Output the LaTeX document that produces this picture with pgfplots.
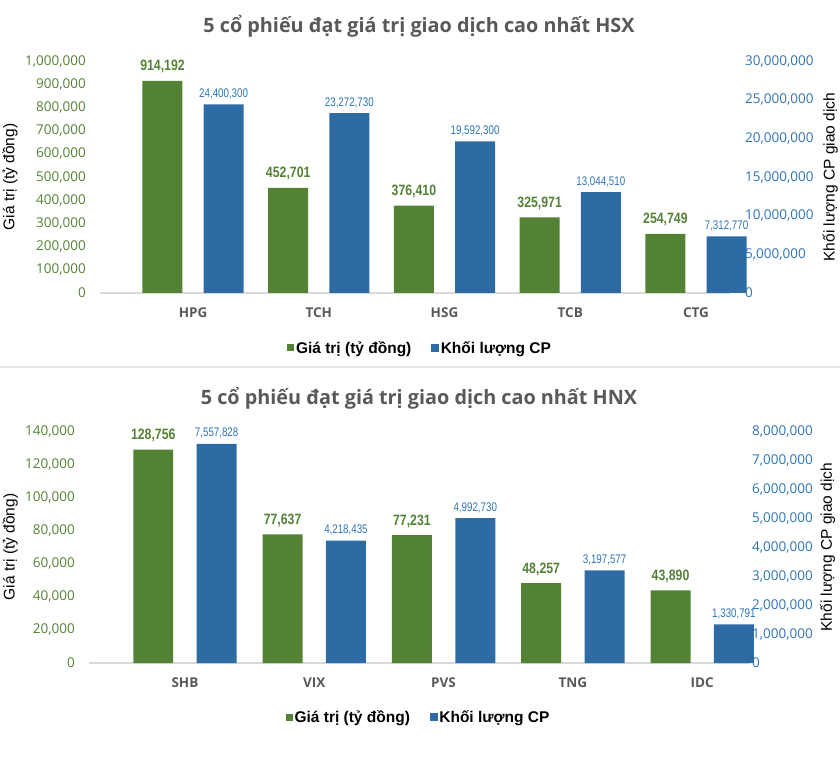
\documentclass[border=0pt]{standalone}
\usepackage{pgfplots}
\pgfplotsset{compat=1.18}
\usepackage{fontspec}
\setmainfont{Liberation Sans}
\newfontfamily\osans{Open Sans}
\newfontfamily\narrowf[FakeStretch=0.82]{Liberation Sans}
\newfontfamily\narrowl[FakeStretch=0.78]{Liberation Sans}
\definecolor{gbar}{HTML}{548235}
\definecolor{bbar}{HTML}{2E6BA4}
\definecolor{gtxt}{HTML}{548235}
\definecolor{btxt}{HTML}{2E75B6}
\definecolor{tgray}{HTML}{595959}
\definecolor{lgray}{HTML}{D9D9D9}
\definecolor{sepgray}{HTML}{E6E6E6}

\pgfplotsset{
  common/.style={scale only axis, clip=false, ymin=0, scaled y ticks=false,
    tick style={draw=none}, axis line style={draw=none},
    /pgf/number format/assume math mode=true,
    yticklabel style={/pgf/number format/fixed,/pgf/number format/1000 sep={,}, inner sep=0pt},
  },
  leftax/.style={common, axis x line*=bottom, axis y line*=left,
    xtick={0,1,2,3,4},
    xticklabel style={font=\osans\bfseries\fontsize{13.5}{16}\selectfont, text=tgray, inner sep=0pt, anchor=north, yshift=-15pt},
    yticklabel style={font=\osans\fontsize{13.5}{16}\selectfont, text=gtxt, anchor=east, xshift=-14pt},
    ylabel style={font=\fontsize{15.5}{18}\selectfont, anchor=center},
    legend style={draw=none, fill=none, legend columns=2, font=\bfseries\fontsize{15.5}{18}\selectfont,
      /tikz/every even column/.append style={column sep=18pt}, anchor=center},
    legend image code/.code={\fill[##1] (0pt,-3.5pt) rectangle (7pt,3.5pt);},
  },
  rightax/.style={common, axis x line=none, axis y line*=right,
    yticklabel style={font=\osans\fontsize{13.5}{16}\selectfont, text=btxt, anchor=west, xshift=0pt},
    ylabel style={font=\fontsize{15.5}{18}\selectfont, anchor=center},
  },
  gb/.style={ybar, bar width=#1, bar shift=0pt, fill=gbar, draw=none, nodes near coords,
    point meta=explicit symbolic,
    every node near coord/.append style={font=\narrowf\bfseries\fontsize{15}{18}\selectfont, text=gtxt, anchor=base, inner sep=0pt, yshift=10pt}},
  bb/.style={ybar, bar width=#1, bar shift=0pt, fill=bbar, draw=none, nodes near coords,
    point meta=explicit symbolic,
    every node near coord/.append style={font=\narrowl\fontsize{12.5}{15}\selectfont, text=btxt, anchor=base, inner sep=0pt, yshift=7pt}},
}

\begin{document}
\begin{tikzpicture}[x=1pt,y=1pt]
\path[use as bounding box] (0,0) rectangle (840,764);
\draw[sepgray, line width=2pt] (0,397) -- (840,397);
\node[font=\osans\bfseries\fontsize{19.8}{23}\selectfont, text=tgray, anchor=base] at (419,731) {5 cổ phiếu đạt giá trị giao dịch cao nhất HSX};
\node[font=\osans\bfseries\fontsize{19.8}{23}\selectfont, text=tgray, anchor=base] at (419,360) {5 cổ phiếu đạt giá trị giao dịch cao nhất HNX};

% ---------------- HSX ----------------
\begin{axis}[leftax, at={(100pt,471pt)}, anchor=south west, width=645pt, height=232pt,
  xmin=-0.74, xmax=4.39, ymax=1000000, ytick distance=100000,
  xticklabels={HPG,TCH,HSG,TCB,CTG},
  ylabel={Giá trị (tỷ đồng)}, ylabel style={at={(axis description cs:-0.1395,0.5)}},
  legend style={at={(axis description cs:0.496,-0.237)}}]
\draw[lgray, line width=1.5pt] (axis cs:-0.74,0) -- (axis cs:4.27,0);
\addplot[gb=0.318] coordinates {(-0.243,914192) [914,192] (0.757,452701) [452,701] (1.757,376410) [376,410] (2.757,325971) [325,971] (3.757,254749) [254,749]};
\addlegendentry{Giá trị (tỷ đồng)}
\addlegendimage{bbar}
\addlegendentry{Khối lượng CP}
\end{axis}
\begin{axis}[rightax, at={(100pt,471pt)}, anchor=south west, width=645pt, height=232pt,
  xmin=-0.74, xmax=4.39, ymax=30000000, ytick distance=5000000,
  ylabel={Khối lượng CP giao dịch}, ylabel style={at={(axis description cs:1.132,0.5)}}]
\addplot[bb=0.318] coordinates {(0.243,24400300) [24,400,300] (1.243,23272730) [23,272,730] (2.243,19592300) [19,592,300] (3.243,13044510) [13,044,510] (4.243,7312770) [7,312,770]};
\end{axis}

% ---------------- HNX ----------------
\begin{axis}[leftax, at={(89pt,101pt)}, anchor=south west, width=663pt, height=232pt,
  xmin=-0.742, xmax=4.385, ymax=140000, ytick distance=20000,
  xticklabels={SHB,VIX,PVS,TNG,IDC},
  ylabel={Giá trị (tỷ đồng)}, ylabel style={at={(axis description cs:-0.1186,0.5)}},
  legend style={at={(axis description cs:0.497,-0.233)}}]
\draw[lgray, line width=1.5pt] (axis cs:-0.742,0) -- (axis cs:4.36,0);
\addplot[gb=0.309] coordinates {(-0.245,128756) [128,756] (0.755,77637) [77,637] (1.755,77231) [77,231] (2.755,48257) [48,257] (3.755,43890) [43,890]};
\addlegendentry{Giá trị (tỷ đồng)}
\addlegendimage{bbar}
\addlegendentry{Khối lượng CP}
\end{axis}
\begin{axis}[rightax, at={(89pt,101pt)}, anchor=south west, width=663pt, height=232pt,
  xmin=-0.742, xmax=4.385, ymax=8000000, ytick distance=1000000,
  ylabel={Khối lượng CP giao dịch}, ylabel style={at={(axis description cs:1.114,0.5)}}]
\addplot[bb=0.309] coordinates {(0.245,7557828) [7,557,828] (1.245,4218435) [4,218,435] (2.245,4992730) [4,992,730] (3.245,3197577) [3,197,577] (4.245,1330791) [1,330,791]};
\end{axis}
\end{tikzpicture}
\end{document}
